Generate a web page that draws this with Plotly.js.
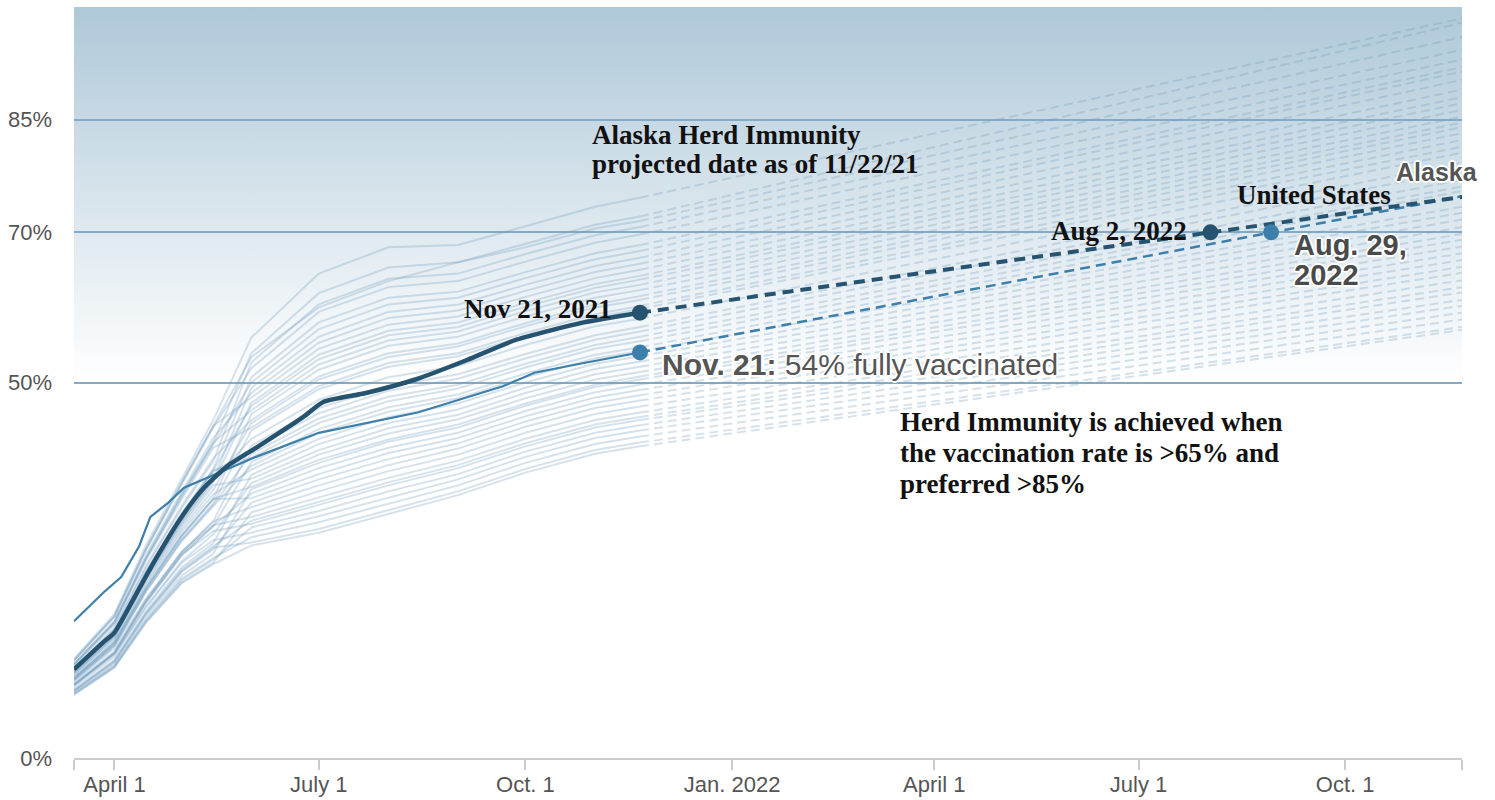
<!DOCTYPE html>
<html>
<head>
<meta charset="utf-8">
<script src="https://cdn.plot.ly/plotly-3.0.1.min.js"></script>
<style>
html,body{margin:0;padding:0;background:#fff;}
#chart{width:1495px;height:800px;}
</style>
</head>
<body>
<div id="chart"></div>
<script>
// ---------- DATA ----------
const dates = ['2021-03-14','2021-04-01','2021-04-15','2021-05-01','2021-05-15','2021-06-01','2021-07-01','2021-08-01','2021-09-01','2021-10-01','2021-11-01','2021-11-21'];
const projEndDate = '2022-11-22';

// state lines (light), one array per date, one value per state (% fully vaccinated)
const v0314 = [13.2,12.5,13.0,11.9,13.0,11.6,12.4,11.3,12.6,13.0,11.2,11.6,12.5,10.6,12.0,10.9,12.3,10.4,11.3,9.8,11.5,10.4,11.6,9.7,10.3,10.7,9.1,11.1,9.4,10.6,8.8,9.7,10.6,8.9,9.8,8.5,10.1,9.0,9.7,8.6,9.7,8.6,9.0,8.4];
const v0401 = [19.2,18.1,18.9,17.2,18.8,16.8,18.0,16.3,18.3,18.9,16.1,16.7,18.1,15.3,17.3,15.7,17.8,15.0,16.3,14.1,16.6,15.0,16.7,13.9,14.9,15.5,13.1,16.0,13.5,15.3,12.5,13.9,15.3,12.8,14.1,12.1,14.6,12.9,14.0,12.2,13.8,12.3,12.8,12.0];
const v0415 = [28.3,26.6,27.8,25.3,27.7,24.8,26.5,24.0,27.0,27.8,23.8,24.7,26.6,22.6,25.6,23.3,26.3,22.3,24.0,21.0,24.6,22.2,24.7,20.7,22.1,23.0,19.5,23.6,20.2,22.6,18.8,20.7,22.6,19.1,21.0,18.1,21.2,19.3,20.8,18.3,20.0,18.4,19.2,18.0];
const v0501 = [37.3,35.1,36.7,33.3,36.5,32.6,34.8,31.5,35.5,36.7,31.2,32.4,35.1,29.6,33.6,30.5,34.5,29.2,31.5,27.4,32.3,29.0,32.4,27.0,28.9,30.1,25.4,30.9,26.2,29.6,24.3,27.0,29.6,24.8,27.4,23.4,27.5,25.1,27.1,23.7,26.0,23.9,24.9,23.3];
const v0515 = [45.0,42.0,44.2,39.5,44.0,38.5,41.7,37.1,42.6,44.2,36.7,38.3,42.0,34.5,39.9,35.7,41.3,33.9,37.1,31.5,38.1,33.7,38.3,30.9,33.5,35.1,28.6,36.3,29.8,34.5,27.2,30.9,34.5,27.8,31.5,26.0,31.0,28.2,30.2,26.4,29.0,26.6,28.0,25.8];
const v0601 = [56.0,53.9,53.4,52.7,51.9,50.7,50.0,49.3,48.6,48.0,47.3,46.9,46.3,45.8,45.0,44.6,44.0,43.6,42.5,41.6,41.1,40.5,40.0,39.4,38.9,38.4,37.7,37.2,36.6,36.1,35.8,35.2,34.6,34.0,33.4,32.7,32.1,31.6,31.2,30.7,30.0,29.4,28.7,28.3];
const v0701 = [64.5,61.9,60.0,60.4,59.4,58.0,57.1,56.1,55.3,54.5,53.7,53.1,52.4,51.7,50.8,50.4,49.5,49.1,47.7,46.6,45.9,45.2,44.6,43.8,43.3,42.5,41.8,41.0,40.4,39.7,39.3,38.6,37.8,37.1,36.3,35.5,34.7,34.1,33.7,32.9,32.2,31.4,30.5,30.0];
const v0801 = [68.0,65.3,63.5,63.8,62.7,61.3,60.4,59.4,58.6,57.7,56.9,56.3,55.6,54.9,53.9,53.4,52.6,52.1,50.7,49.5,48.9,48.1,47.5,46.7,46.1,45.4,44.6,43.9,43.2,42.4,42.1,41.3,40.6,39.8,39.0,38.2,37.3,36.7,36.3,35.5,34.7,33.9,33.0,32.5];
const v0901 = [68.3,66.0,66.0,64.5,63.5,62.1,61.3,60.4,59.6,58.8,58.0,57.4,56.8,56.1,55.2,54.8,53.9,53.5,52.2,51.1,50.5,49.7,49.2,48.4,47.9,47.2,46.4,45.7,45.1,44.4,44.0,43.3,42.6,41.9,41.2,40.4,39.6,39.0,38.6,37.8,37.1,36.3,35.5,35.0];
const v1001 = [70.8,68.5,68.0,67.1,66.1,64.7,63.9,63.0,62.2,61.4,60.6,60.1,59.5,58.8,57.9,57.5,56.6,56.2,55.0,53.8,53.2,52.5,52.0,51.2,50.7,50.0,49.3,48.6,47.9,47.2,46.9,46.2,45.5,44.8,44.1,43.3,42.5,41.9,41.5,40.8,40.1,39.3,38.5,38.0];
const v1101 = [73.4,71.0,70.5,69.6,68.6,67.2,66.4,65.5,64.7,63.9,63.1,62.6,62.0,61.3,60.4,60.0,59.1,58.7,57.5,56.3,55.7,55.0,54.5,53.7,53.2,52.5,51.8,51.1,50.4,49.7,49.4,48.7,48.0,47.3,46.6,45.8,45.0,44.4,44.0,43.3,42.6,41.8,41.0,40.5];
const v1121 = [74.6,72.1,71.5,70.7,69.7,68.3,67.5,66.6,65.8,65.0,64.2,63.7,63.0,62.3,61.5,61.0,60.2,59.8,58.5,57.4,56.8,56.1,55.5,54.7,54.2,53.5,52.8,52.1,51.4,50.8,50.4,49.7,49.0,48.3,47.6,46.8,46.0,45.4,45.0,44.3,43.6,42.8,42.0,41.5];
const vProj = [98.5,97.9,96.0,94.3,93.0,92.0,91.4,90.3,89.0,88.0,87.2,86.3,85.4,84.6,84.0,83.2,82.3,81.4,80.6,79.3,78.3,77.0,76.1,75.5,73.4,72.6,71.7,70.7,69.8,69.0,68.1,67.2,66.3,65.4,64.6,63.6,62.7,62.0,61.0,60.2,59.3,58.4,57.4,57.0];

// United States
const usDates = ['2021-03-14','2021-03-27','2021-04-01','2021-04-11','2021-04-20','2021-04-30','2021-05-10','2021-05-21','2021-06-03','2021-06-24','2021-07-03','2021-07-22','2021-08-13','2021-09-05','2021-09-27','2021-10-27','2021-11-21'];
const usVals = [11.8,15.4,16.7,22.0,26.8,31.7,35.7,38.8,41.3,45.4,47.4,48.6,50.4,53.0,55.7,58.0,59.3];
const usProjDates = ['2021-11-21','2022-08-02','2022-11-22'];
const usProjVals = [59.3,70,74.7];

// Alaska
const akDates = ['2021-03-14','2021-03-21','2021-03-27','2021-04-04','2021-04-12','2021-04-17','2021-04-25','2021-05-02','2021-05-15','2021-06-03','2021-07-01','2021-07-23','2021-08-14','2021-09-21','2021-10-05','2021-10-27','2021-11-21'];
const akVals = [18.2,20.2,22.0,24.1,28.2,32.1,34.0,36.0,37.7,40.1,43.3,44.7,46.0,49.5,51.3,52.6,54.0];
const akProjDates = ['2021-11-21','2022-08-29','2022-11-22'];
const akProjVals = [54.0,70,74.8];

const xTickVals = ['2021-03-14','2021-04-01','2021-07-01','2021-10-01','2022-01-01','2022-04-01','2022-07-01','2022-10-01','2022-11-22'];
const xTickText = ['','April 1','July 1','Oct. 1','Jan. 2022','April 1','July 1','Oct. 1',''];
const yTickVals = [0,50,70,85];
const yTickText = ['0%','50%','70%','85%'];

// ---------- STYLE ----------
const SANS = 'Liberation Sans, Arial, Helvetica, sans-serif';
const SERIF = 'Liberation Serif, Times New Roman, serif';
const stateColor = 'rgba(115,160,192,0.30)';
const usColor = '#26536f';
const akColor = '#3d7fab';
const halo = '2px 0px 0px #fff, -2px 0px 0px #fff, 0px 2px 0px #fff, 0px -2px 0px #fff, 1px 1px 0px #fff, -1px -1px 0px #fff, 1px -1px 0px #fff, -1px 1px 0px #fff';

const cols = [v0314,v0401,v0415,v0501,v0515,v0601,v0701,v0801,v0901,v1001,v1101,v1121];
const traces = [];
for (let s = 0; s < v1121.length; s++) {
  traces.push({
    type:'scatter', mode:'lines', x: dates, y: cols.map(c => c[s]),
    line:{color:stateColor, width:2}, hoverinfo:'skip', showlegend:false
  });
  traces.push({
    type:'scatter', mode:'lines', x: [dates[dates.length-1], projEndDate], y: [v1121[s], vProj[s]],
    line:{color:stateColor, width:2, dash:'9px,5px'}, hoverinfo:'skip', showlegend:false
  });
}
// Alaska
traces.push({type:'scatter', mode:'lines', x:akDates, y:akVals, line:{color:akColor, width:2.2}, showlegend:false, hoverinfo:'skip'});
traces.push({type:'scatter', mode:'lines', x:akProjDates, y:akProjVals, line:{color:akColor, width:2.5, dash:'10px,6px'}, showlegend:false, hoverinfo:'skip'});
// US
traces.push({type:'scatter', mode:'lines', x:usDates, y:usVals, line:{color:usColor, width:4.5, shape:'spline', smoothing:0.6}, showlegend:false, hoverinfo:'skip'});
traces.push({type:'scatter', mode:'lines', x:usProjDates, y:usProjVals, line:{color:usColor, width:4, dash:'11px,7px'}, showlegend:false, hoverinfo:'skip'});
// points
traces.push({type:'scatter', mode:'markers', x:[akProjDates[0], akProjDates[1]], y:[akProjVals[0], akProjVals[1]], marker:{color:akColor, size:16}, showlegend:false, hoverinfo:'skip'});
traces.push({type:'scatter', mode:'markers', x:[usProjDates[0], usProjDates[1]], y:[usProjVals[0], usProjVals[1]], marker:{color:usColor, size:16}, showlegend:false, hoverinfo:'skip'});

// gradient background (top of plot down to the 50% line)
const gradSvg = '<svg xmlns="http://www.w3.org/2000/svg" width="100" height="100" preserveAspectRatio="none">' +
  '<defs><linearGradient id="g" x1="0" y1="0" x2="0" y2="1">' +
  '<stop offset="0" stop-color="rgb(174,200,216)"/><stop offset="1" stop-color="rgb(255,255,255)"/>' +
  '</linearGradient></defs><rect width="100" height="100" fill="url(#g)"/></svg>';
const gradUrl = 'data:image/svg+xml;charset=utf-8,' + encodeURIComponent(gradSvg);

// pixel -> paper helpers for text placement
const L = 74, R = 33, T = 7, B = 41.5, W = 1495, H = 800;
const PW = W - L - R, PH = H - T - B;
const px = p => (p - L) / PW;
const py = p => (H - B - p) / PH;

function ann(text, x, y, xa, font) {
  return {text, x: px(x), y: py(y), xref:'paper', yref:'paper', xanchor:xa, yanchor:'middle', showarrow:false, font, borderpad:0};
}
const serifB = {family:SERIF, size:27, color:'#111', weight:'bold'};
const sansBig = {family:SANS, size:29, color:'#4a4a4a', weight:'bold', shadow:halo};
const annotations = [
  ann('Alaska Herd Immunity', 591, 135, 'left', serifB),
  ann('projected date as of 11/22/21', 591, 164, 'left', serifB),
  ann('Nov 21, 2021', 613, 309, 'right', serifB),
  ann('Aug 2, 2022', 1188, 231, 'right', serifB),
  ann('United States', 1314, 195, 'center', serifB),
  ann('Herd Immunity is achieved when', 899, 422, 'left', serifB),
  ann('the vaccination rate is >65% and', 899, 453, 'left', serifB),
  ann('preferred >85%', 899, 484, 'left', serifB),
  ann('Alaska', 1437, 172, 'center', {family:SANS, size:25, color:'#555', weight:'bold', shadow:halo}),
  ann('Aug. 29,', 1293, 245, 'left', sansBig),
  ann('2022', 1293, 275, 'left', sansBig),
  ann('<b>Nov. 21:</b> 54% fully vaccinated', 661, 365, 'left', {family:SANS, size:30, color:'#555', shadow:halo})
];

const layout = {
  width: W, height: H,
  margin: {l:L, r:R, t:T, b:B, pad:0},
  paper_bgcolor:'#fff', plot_bgcolor:'#fff',
  hovermode:false,
  showlegend:false,
  xaxis: {
    type:'date', range:['2021-03-14','2022-11-22'],
    tickvals:xTickVals, ticktext:xTickText,
    showgrid:false, zeroline:false,
    showline:true, linecolor:'#cccccc', linewidth:2,
    ticks:'outside', ticklen:10, tickwidth:2, tickcolor:'#cccccc',
    tickfont:{family:SANS, size:22, color:'#555'},
    ticklabelstandoff:-4,
    fixedrange:true
  },
  yaxis: {
    range:[0,100],
    tickvals:yTickVals, ticktext:yTickText,
    showgrid:true, gridcolor:'#84aac5', gridwidth:2,
    zeroline:false, showline:false, ticks:'',
    tickfont:{family:SANS, size:22, color:'#555'},
    ticklabelstandoff:21,
    fixedrange:true
  },
  images: [{
    source: gradUrl, xref:'paper', yref:'paper', x:0, y:1, sizex:1, sizey:0.5,
    xanchor:'left', yanchor:'top', sizing:'stretch', layer:'below'
  }],
  annotations
};

Plotly.newPlot('chart', traces, layout, {staticPlot:true, displayModeBar:false});
</script>
</body>
</html>
